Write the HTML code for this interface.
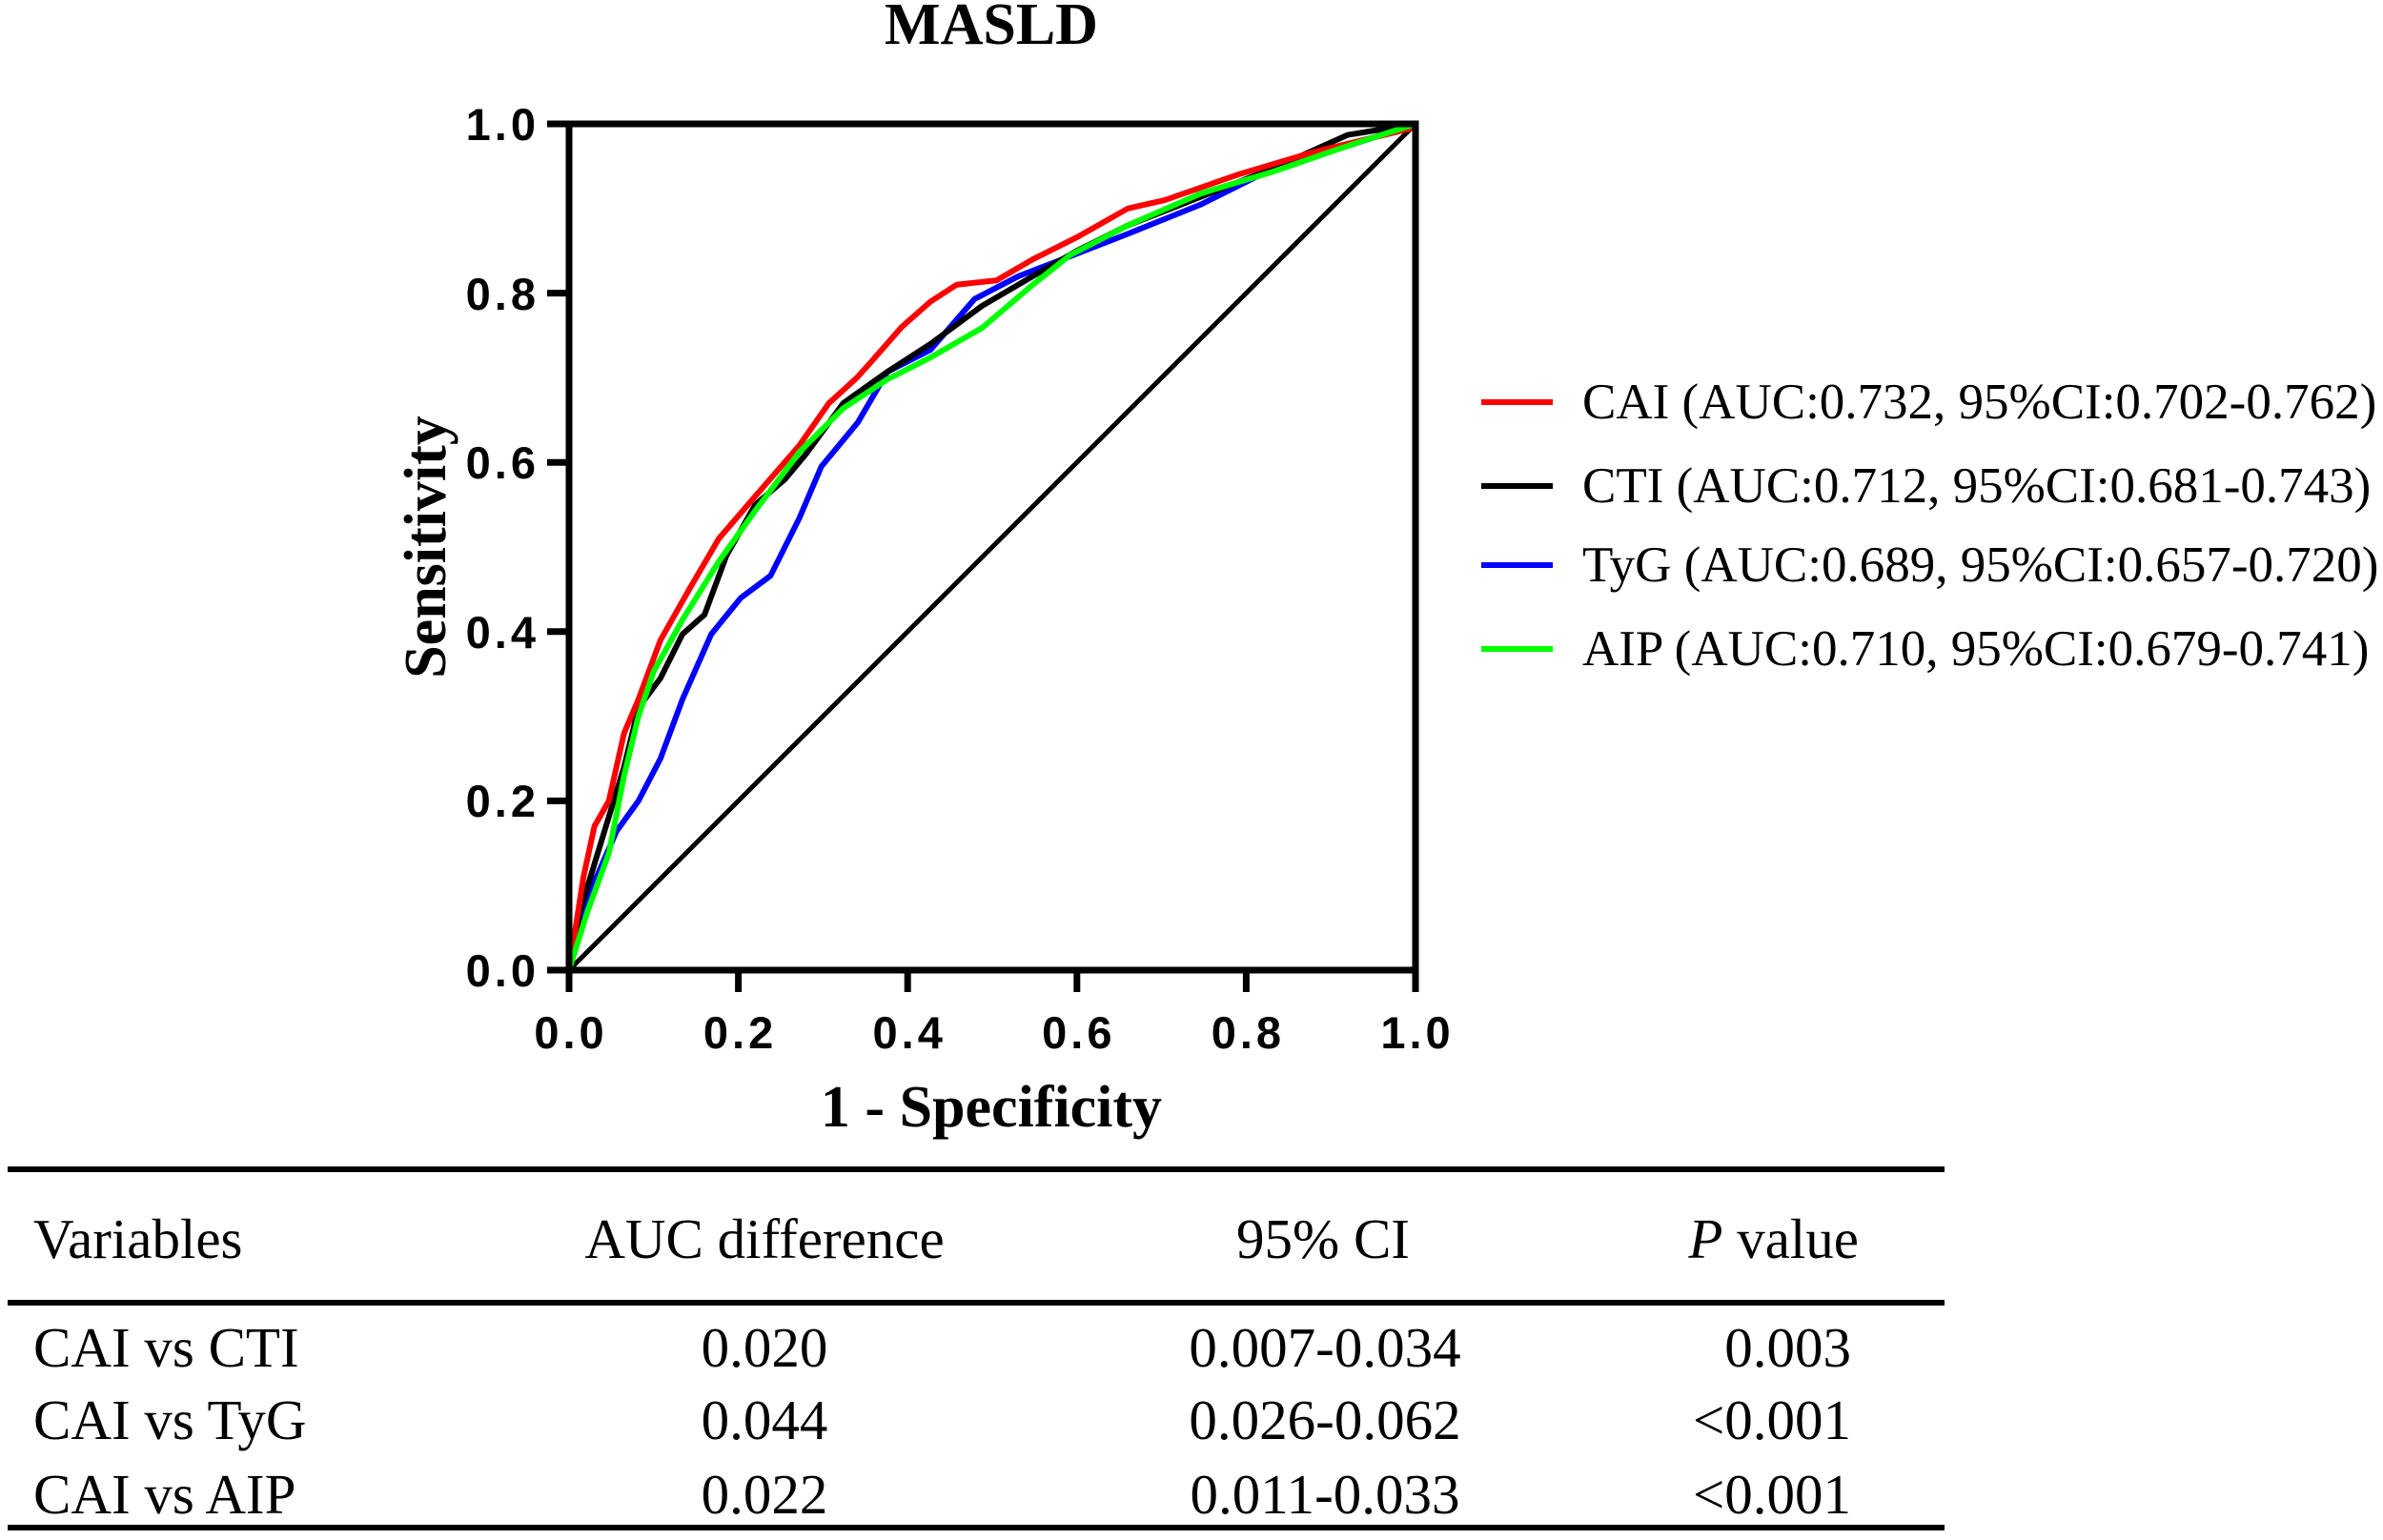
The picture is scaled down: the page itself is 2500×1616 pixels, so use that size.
<!DOCTYPE html>
<html><head><meta charset="utf-8"><style>
body{margin:0;background:#fff}
svg{display:block}
</style></head><body>
<svg width="2500" height="1616" viewBox="0 0 2500 1616" xmlns="http://www.w3.org/2000/svg">
<rect width="2500" height="1616" fill="#fff"/>
<text x="1040" y="46" font-family="Liberation Serif, serif" font-weight="bold" font-size="62" text-anchor="middle">MASLD</text>
<g transform="translate(597,1018) scale(888,-888)" fill="none" stroke-linejoin="round">
<line x1="0" y1="0" x2="1" y2="1" stroke="#000" stroke-width="5" vector-effect="non-scaling-stroke"/>
<polyline vector-effect="non-scaling-stroke" stroke="#0000ff" stroke-width="6" points="0,0 .022,.086 .056,.164 .082,.2 .108,.25 .134,.32 .168,.397 .203,.44 .238,.466 .272,.534 .298,.595 .341,.647 .376,.707 .427,.733 .479,.793 .531,.82 .583,.84 .66,.87 .747,.905 .833,.948 .92,.974 1,1"/>
<polyline vector-effect="non-scaling-stroke" stroke="#000" stroke-width="6" points="0,0 .013,.07 .039,.155 .065,.24 .082,.31 .108,.345 .134,.397 .16,.42 .186,.49 .22,.55 .255,.58 .28,.61 .324,.67 .376,.707 .427,.74 .488,.785 .548,.82 .6,.85 .66,.88 .747,.914 .833,.948 .92,.987 1,1"/>
<polyline vector-effect="non-scaling-stroke" stroke="#ff0000" stroke-width="6" points="0,0 .017,.11 .03,.17 .047,.2 .065,.28 .082,.32 .108,.39 .142,.45 .177,.51 .22,.56 .272,.62 .307,.67 .34,.70 .358,.72 .393,.76 .427,.79 .458,.81 .505,.815 .548,.84 .6,.866 .66,.90 .704,.91 .79,.94 .877,.966 1,.996"/>
<polyline vector-effect="non-scaling-stroke" stroke="#00ff00" stroke-width="6" points="0,0 .022,.07 .047,.138 .065,.23 .082,.30 .1,.353 .134,.414 .177,.483 .22,.543 .272,.612 .324,.664 .376,.698 .427,.724 .488,.759 .548,.81 .592,.845 .66,.88 .747,.918 .833,.944 .92,.974 1,1"/>
</g>
<g stroke="#000" stroke-width="7" fill="none">
<polyline points="597,130 1485,130 1485,1018 597,1018 597,130" stroke-linecap="square"/>
<line x1="574" y1="130" x2="597" y2="130"/><line x1="574" y1="307.6" x2="597" y2="307.6"/><line x1="574" y1="485.2" x2="597" y2="485.2"/><line x1="574" y1="662.8" x2="597" y2="662.8"/><line x1="574" y1="840.4" x2="597" y2="840.4"/><line x1="574" y1="1018" x2="597" y2="1018"/>
<line x1="597" y1="1018" x2="597" y2="1041"/><line x1="774.6" y1="1018" x2="774.6" y2="1041"/><line x1="952.2" y1="1018" x2="952.2" y2="1041"/><line x1="1129.8" y1="1018" x2="1129.8" y2="1041"/><line x1="1307.4" y1="1018" x2="1307.4" y2="1041"/><line x1="1485" y1="1018" x2="1485" y2="1041"/>
</g>
<g font-family="Liberation Sans, sans-serif" font-weight="bold" font-size="47" letter-spacing="4" text-anchor="end">
<text x="566" y="147">1.0</text><text x="566" y="325">0.8</text><text x="566" y="502">0.6</text><text x="566" y="680">0.4</text><text x="566" y="857">0.2</text><text x="566" y="1035">0.0</text>
</g>
<g font-family="Liberation Sans, sans-serif" font-weight="bold" font-size="47" letter-spacing="4" text-anchor="middle">
<text x="599" y="1100">0.0</text><text x="776.6" y="1100">0.2</text><text x="954.2" y="1100">0.4</text><text x="1131.8" y="1100">0.6</text><text x="1309.4" y="1100">0.8</text><text x="1487" y="1100">1.0</text>
</g>
<text x="1040" y="1182" font-family="Liberation Serif, serif" font-weight="bold" font-size="62" text-anchor="middle">1 - Specificity</text>
<text transform="translate(467,574) rotate(-90)" font-family="Liberation Serif, serif" font-weight="bold" font-size="62" text-anchor="middle">Sensitivity</text>
<g stroke-width="6">
<line x1="1554" y1="422" x2="1629" y2="422" stroke="#ff0000"/>
<line x1="1554" y1="510" x2="1629" y2="510" stroke="#000"/>
<line x1="1554" y1="593" x2="1629" y2="593" stroke="#0000ff"/>
<line x1="1554" y1="681" x2="1629" y2="681" stroke="#00ff00"/>
</g>
<g font-family="Liberation Serif, serif" font-size="53">
<text x="1660" y="439">CAI (AUC:0.732, 95%CI:0.702-0.762)</text>
<text x="1660" y="527">CTI (AUC:0.712, 95%CI:0.681-0.743)</text>
<text x="1660" y="610">TyG (AUC:0.689, 95%CI:0.657-0.720)</text>
<text x="1660" y="698">AIP (AUC:0.710, 95%CI:0.679-0.741)</text>
</g>
<g stroke="#000" stroke-width="6">
<line x1="8" y1="1227" x2="2040" y2="1227"/>
<line x1="8" y1="1367" x2="2040" y2="1367"/>
<line x1="8" y1="1603" x2="2040" y2="1603"/>
</g>
<g font-family="Liberation Serif, serif" font-size="59">
<text x="35" y="1320">Variables</text>
<text x="802" y="1320" text-anchor="middle">AUC difference</text>
<text x="1388" y="1320" text-anchor="middle">95% CI</text>
<text x="1950" y="1320" text-anchor="end"><tspan font-style="italic">P</tspan> value</text>
<text x="35" y="1434">CAI vs CTI</text>
<text x="35" y="1510">CAI vs TyG</text>
<text x="35" y="1588">CAI vs AIP</text>
<text x="802" y="1434" text-anchor="middle">0.020</text>
<text x="802" y="1510" text-anchor="middle">0.044</text>
<text x="802" y="1588" text-anchor="middle">0.022</text>
<text x="1390" y="1434" text-anchor="middle">0.007-0.034</text>
<text x="1390" y="1510" text-anchor="middle">0.026-0.062</text>
<text x="1390" y="1588" text-anchor="middle">0.011-0.033</text>
<text x="1942" y="1434" text-anchor="end">0.003</text>
<text x="1942" y="1510" text-anchor="end">&lt;0.001</text>
<text x="1942" y="1588" text-anchor="end">&lt;0.001</text>
</g>
</svg>
</body></html>
